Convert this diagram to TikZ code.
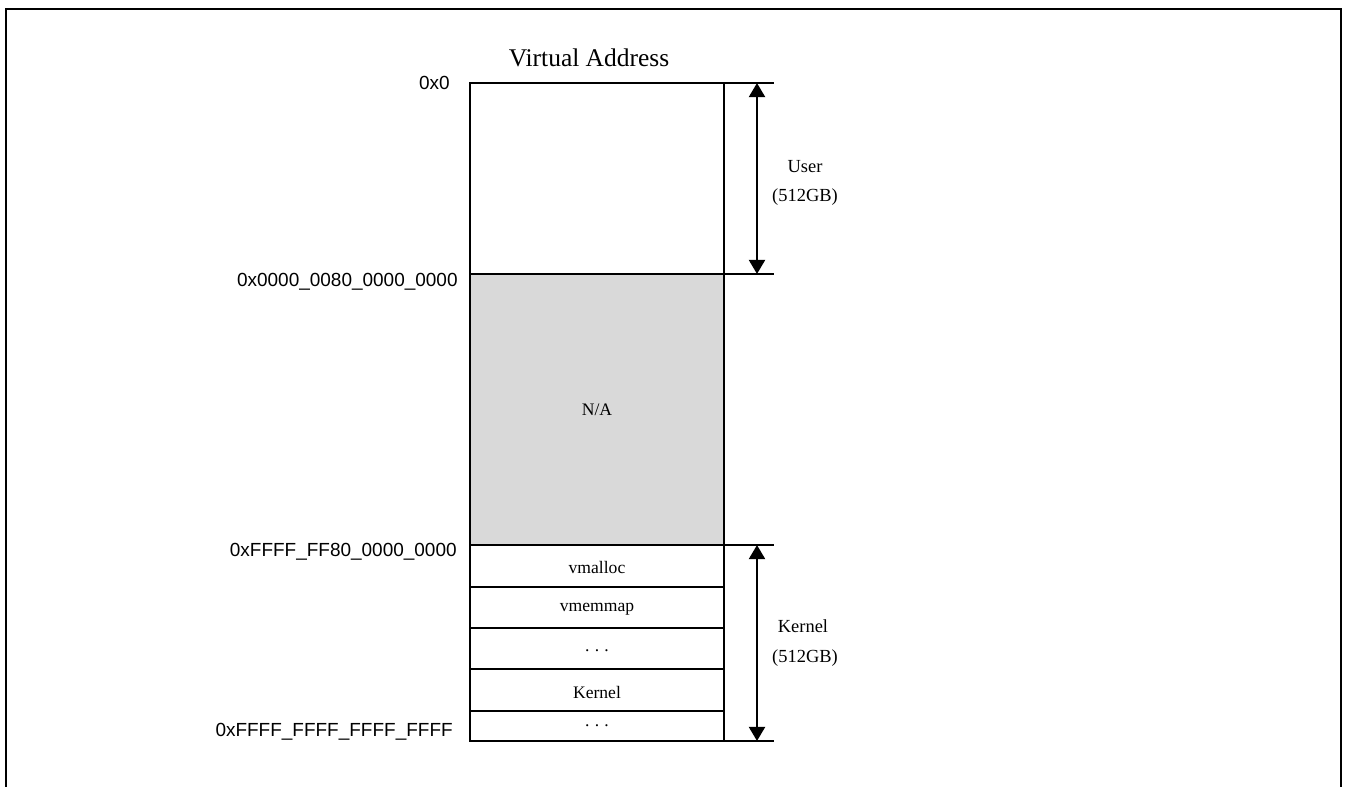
\documentclass[tikz,border=0pt]{standalone}
\usepackage{fontspec}
\setmainfont{Liberation Serif}
\setsansfont{Liberation Sans}
\usetikzlibrary{arrows.meta}
\definecolor{nagray}{RGB}{217,217,217}
\tikzset{
 addr/.style={anchor=east,inner sep=0pt,font=\sffamily\fontsize{10.8}{12}\selectfont},
 region/.style={font=\fontsize{10}{12}\selectfont},
 side/.style={font=\fontsize{10.5}{12}\selectfont},
 box/.style={line width=1.1pt},
 span/.style={line width=1.5pt,{Triangle[width=9pt,length=8pt]}-{Triangle[width=9pt,length=8pt]}},
 }
\newcommand{\gapdots}{.\hspace{3pt}.\hspace{3pt}.}

\begin{document}
\begin{tikzpicture}[x=0.02cm,y=-0.02cm]
        \useasboundingbox (0,0) rectangle (1346,787);
        \draw[line width=1.3pt] (6,800) -- (6,9) -- (1341,9) -- (1341,800);
        \node[font=\fontsize{14.5}{16}\selectfont] (title) at (589,58) {Virtual Address};
        % address column
        \fill[nagray] (470,274) rectangle (724,545);
        \draw[box] (470,83) rectangle (724,741);
        \foreach \y in {274,545,587,628,669,711}
            \draw[box] (470,\y) -- (724,\y);
        \foreach \y in {83,274,545,741}
            \draw[box] (724,\y) -- (774,\y);
        % addresses
        \node[addr] (a0) at (450,83) {0x0};
        \node[addr] (auser) at (458,282) {0x0000\_0080\_0000\_0000};
        \node[addr] (akern) at (457,552) {0xFFFF\_FF80\_0000\_0000};
        \node[addr] (aend) at (453,732) {0xFFFF\_FFFF\_FFFF\_FFFF};
        % regions
        \node[region] (na) at (597,410) {N/A};
        \node[region] (vmalloc) at (597,567) {vmalloc};
        \node[region] (vmemmap) at (597,609) {vmemmap};
        \node[region] (gap1) at (597,651) {\gapdots};
        \node[region] (kimg) at (597,692) {Kernel};
        \node[region] (gap2) at (597,726) {\gapdots};
        % spans
        \coordinate (utop) at (757,83);
        \coordinate (ubot) at (757,274);
        \coordinate (ktop) at (757,545);
        \coordinate (kbot) at (757,741);
        \draw[span] (utop) -- (ubot);
        \draw[span] (ktop) -- (kbot);
        \node[side] (user) at (805,167) {User};
        \node[side] (usize) at (805,197) {(512GB)};
        \node[side] (kern) at (803,626) {Kernel};
        \node[side] (ksize) at (805,658) {(512GB)};
    \end{tikzpicture}
\end{document}
